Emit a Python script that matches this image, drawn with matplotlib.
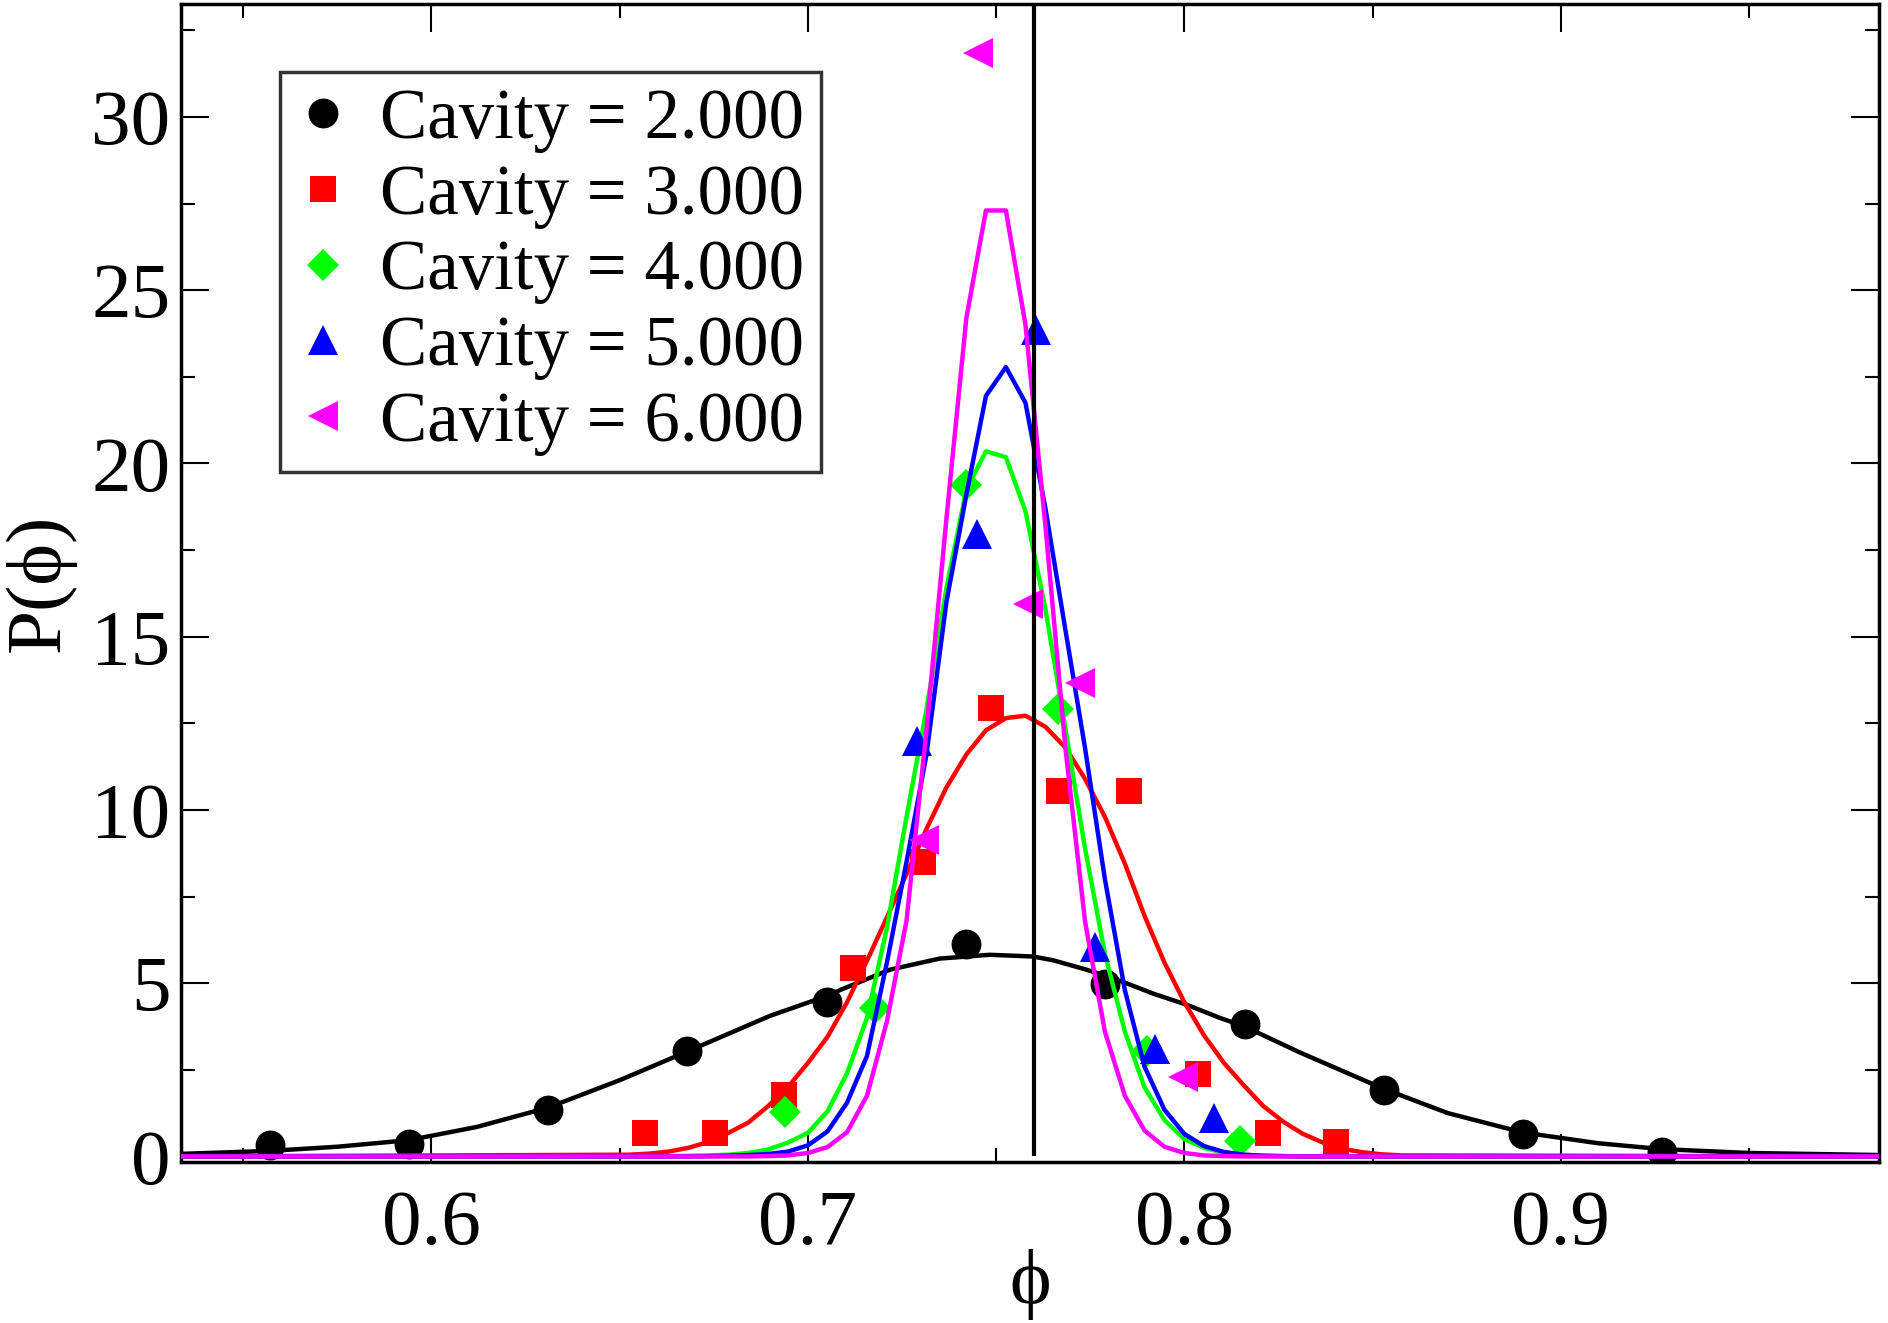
import matplotlib
matplotlib.use("Agg")
import matplotlib.pyplot as plt
from matplotlib.ticker import MultipleLocator

# --- histogram points P(phi), one list pair per cavity size ---
phi_c2 = [0.557, 0.594, 0.631, 0.668, 0.705, 0.742, 0.779, 0.816, 0.853, 0.890, 0.927]
p_c2 = [0.34, 0.35, 1.33, 3.03, 4.46, 6.14, 4.98, 3.82, 1.91, 0.65, 0.12]

phi_c3 = [0.6568, 0.6752, 0.6937, 0.7120, 0.7305, 0.7486, 0.7667, 0.7853, 0.8037, 0.8221, 0.8403]
p_c3 = [0.69, 0.69, 1.76, 5.45, 8.50, 12.93, 10.55, 10.55, 2.39, 0.69, 0.41]

phi_c4 = [0.6939, 0.7177, 0.7421, 0.7665, 0.7902, 0.8147]
p_c4 = [1.29, 4.29, 19.39, 12.92, 3.05, 0.45]

phi_c5 = [0.7290, 0.7448, 0.7606, 0.7763, 0.7921, 0.8080]
p_c5 = [11.99, 17.95, 23.86, 6.05, 3.09, 1.12]

phi_c6 = [0.7309, 0.7451, 0.7585, 0.7722, 0.7997]
p_c6 = [9.12, 31.85, 15.93, 13.66, 2.29]

# --- fitted curves ---
fit_x_c2 = [0.53, 0.535, 0.557, 0.575, 0.594, 0.612, 0.631, 0.650, 0.668, 0.690,
            0.705, 0.7085, 0.7218, 0.735, 0.7483, 0.7598, 0.7652, 0.774, 0.7829,
            0.7917, 0.8006, 0.8094, 0.816, 0.8307, 0.853, 0.870, 0.890, 0.910,
            0.927, 0.950, 0.985, 0.99]
fit_y_c2 = [0.07, 0.08, 0.16, 0.28, 0.47, 0.85, 1.41, 2.20, 3.03, 4.06,
            4.63, 4.80, 5.39, 5.71, 5.82, 5.77, 5.66, 5.39, 5.07,
            4.70, 4.38, 4.00, 3.75, 3.00, 1.95, 1.25, 0.69, 0.38,
            0.21, 0.10, 0.04, 0.04]

fit_x = [0.53, 0.6524, 0.6577, 0.6630, 0.6683, 0.6736, 0.6789, 0.6842, 0.6894, 0.6947,
         0.7000, 0.7052, 0.7104, 0.7157, 0.7210, 0.7262, 0.7315, 0.7368, 0.7421, 0.7473,
         0.7526, 0.7578, 0.7631, 0.7684, 0.7736, 0.7789, 0.7842, 0.7894, 0.7947, 0.8000,
         0.8052, 0.8105, 0.8158, 0.8210, 0.8263, 0.8315, 0.8368, 0.8421, 0.8473, 0.8526,
         0.8579, 0.99]
fit_y_c3 = [0.0, 0.05, 0.08, 0.14, 0.25, 0.42, 0.68, 0.98, 1.45, 2.00,
            2.70, 3.45, 4.45, 5.65, 6.90, 8.15, 9.45, 10.65, 11.60, 12.30,
            12.65, 12.72, 12.40, 11.80, 10.90, 9.80, 8.45, 6.95, 5.60, 4.45,
            3.50, 2.70, 2.05, 1.45, 1.00, 0.65, 0.40, 0.22, 0.12, 0.06,
            0.03, 0.0]
fit_y_c4 = [0.0, 0.0, 0.0, 0.01, 0.02, 0.03, 0.05, 0.10, 0.20, 0.40,
            0.68, 1.30, 2.40, 4.00, 6.60, 9.80, 12.90, 16.40, 19.25, 20.35,
            20.18, 18.62, 15.80, 12.35, 8.90, 5.85, 3.60, 2.00, 1.05, 0.50,
            0.25, 0.10, 0.05, 0.02, 0.01, 0.0, 0.0, 0.0, 0.0, 0.0,
            0.0, 0.0]
fit_y_c5 = [0.0, 0.0, 0.0, 0.0, 0.0, 0.01, 0.02, 0.04, 0.07, 0.14,
            0.32, 0.72, 1.55, 2.90, 5.60, 8.50, 11.60, 16.00, 19.10, 21.95,
            22.78, 21.75, 18.70, 15.20, 11.80, 8.00, 4.80, 2.60, 1.35, 0.65,
            0.30, 0.13, 0.05, 0.02, 0.01, 0.0, 0.0, 0.0, 0.0, 0.0,
            0.0, 0.0]
fit_y_c6 = [0.0, 0.0, 0.0, 0.0, 0.0, 0.0, 0.0, 0.0, 0.01, 0.03,
            0.10, 0.27, 0.70, 1.75, 3.90, 6.80, 12.30, 18.40, 24.20, 27.30,
            27.30, 24.00, 18.20, 11.80, 6.80, 3.60, 1.75, 0.75, 0.28, 0.10,
            0.03, 0.01, 0.0, 0.0, 0.0, 0.0, 0.0, 0.0, 0.0, 0.0,
            0.0, 0.0]

labels = ["Cavity = 2.000", "Cavity = 3.000", "Cavity = 4.000",
          "Cavity = 5.000", "Cavity = 6.000"]
phi_ref = 0.76

plt.rcParams["font.family"] = ["Liberation Serif", "DejaVu Serif"]

fig = plt.figure(figsize=(18.88, 13.23), dpi=100)
ax = fig.add_axes([0.0961, 0.1217, 0.8991, 0.8753])

points = [(phi_c2, p_c2), (phi_c3, p_c3), (phi_c4, p_c4), (phi_c5, p_c5), (phi_c6, p_c6)]
curves = [(fit_x_c2, fit_y_c2), (fit_x, fit_y_c3), (fit_x, fit_y_c4),
          (fit_x, fit_y_c5), (fit_x, fit_y_c6)]
colors = ["#000000", "#ff0000", "#00ff00", "#0000ff", "#ff00ff"]
markers = ["o", "s", "D", "^", "<"]
msizes = [21.5, 19, 16.5, 21, 21]

for i in range(5):
    x, y = points[i]
    ax.plot(x, y, linestyle="none", marker=markers[i], markersize=msizes[i],
            color=colors[i], markeredgewidth=0, label=labels[i], zorder=2 + 2 * i)
    cx, cy = curves[i]
    ax.plot(cx, cy, color=colors[i], linewidth=3.2, zorder=3 + 2 * i)

ax.vlines(phi_ref, 0, 35, color="black", linewidth=3, zorder=20)

ax.set_xlim(0.5336, 0.9845)
ax.set_ylim(-0.16, 33.26)
ax.xaxis.set_major_locator(MultipleLocator(0.1))
ax.xaxis.set_minor_locator(MultipleLocator(0.05))
ax.yaxis.set_major_locator(MultipleLocator(5))
ax.yaxis.set_minor_locator(MultipleLocator(2.5))
ax.tick_params(which="both", direction="in", top=True, right=True, width=1.5)
ax.tick_params(which="major", length=20, labelsize=57)
ax.tick_params(which="minor", length=10)
ax.tick_params(axis="x", pad=20)
ax.tick_params(axis="y", pad=8)
for s in ax.spines.values():
    s.set_linewidth(2.5)

ax.set_xlabel("ϕ", fontsize=57, labelpad=-9)
ax.set_ylabel("P(ϕ)", fontsize=57, labelpad=11)

leg = ax.legend(loc="upper left", bbox_to_anchor=(0.058, 0.9413), borderaxespad=0,
                fontsize=51, numpoints=1, frameon=True, fancybox=False,
                borderpad=0.23, handlelength=0.75, handletextpad=0.44,
                labelspacing=0.15)
leg.get_frame().set_edgecolor("black")
leg.get_frame().set_linewidth(2.5)

fig.savefig("out.png", dpi=100)
